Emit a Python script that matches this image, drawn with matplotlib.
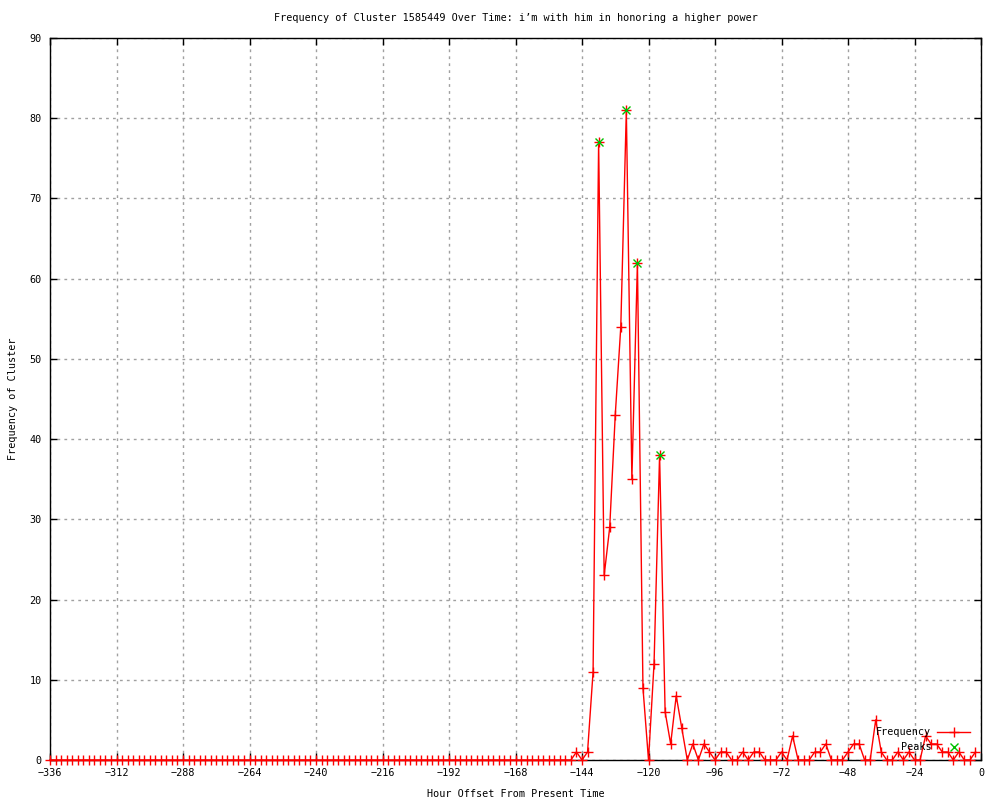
import matplotlib
matplotlib.use("Agg")
import matplotlib.pyplot as plt

# hours before present, one sample every 2 hours
hours = list(range(-336, 0, 2))

# -336 .. -148 (all zero)
quiet = [0, 0, 0, 0, 0, 0, 0, 0, 0, 0, 0, 0, 0, 0, 0, 0, 0, 0, 0, 0,
         0, 0, 0, 0, 0, 0, 0, 0, 0, 0, 0, 0, 0, 0, 0, 0, 0, 0, 0, 0,
         0, 0, 0, 0, 0, 0, 0, 0, 0, 0, 0, 0, 0, 0, 0, 0, 0, 0, 0, 0,
         0, 0, 0, 0, 0, 0, 0, 0, 0, 0, 0, 0, 0, 0, 0, 0, 0, 0, 0, 0,
         0, 0, 0, 0, 0, 0, 0, 0, 0, 0, 0, 0, 0, 0, 0]
# -146 .. -2
active = [1, 0, 1, 11, 77, 23, 29, 43, 54, 81, 35, 62, 9, 0, 12, 38, 6, 2, 8, 4,
          0, 2, 0, 2, 1, 0, 1, 1, 0, 0, 1, 0, 1, 1, 0, 0, 0, 1, 0, 3,
          0, 0, 0, 1, 1, 2, 0, 0, 0, 1, 2, 2, 0, 0, 5, 1, 0, 0, 1, 0,
          1, 0, 0, 3, 2, 2, 1, 1, 0, 1, 0, 0, 1]
frequency = quiet + active

peak_hours = [-138, -128, -124, -116]
peak_values = [77, 81, 62, 38]

x_ticks = list(range(-336, 1, 24))
y_ticks = list(range(0, 91, 10))

title = "Frequency of Cluster 1585449 Over Time: i\u2019m with him in honoring a higher power"

plt.rcParams['font.family'] = ['DejaVu Sans Mono']
plt.rcParams['font.size'] = 7.3

fig = plt.figure(figsize=(10, 8), dpi=100)
ax = fig.add_axes([0.05, 0.05, 0.931, 0.9025])

ax.plot(hours, frequency, color='#ff0000', lw=1.0, marker='+', ms=7,
        mew=1.0, label='Frequency', clip_on=False, zorder=3)
ax.plot(peak_hours, peak_values, ls='none', color='#00c000', marker='x',
        ms=6, mew=1.0, label='Peaks', zorder=4)

ax.set_xlim(-336, 0)
ax.set_ylim(0, 90)
ax.set_xticks(x_ticks)
ax.set_yticks(y_ticks)
ax.set_xticklabels([str(t).replace('-', '\u2212') for t in x_ticks])
ax.tick_params(direction='in', length=5, width=1, top=True, right=True,
               pad=6, colors='black')
ax.grid(True, color='#a0a0a0', ls=(0, (2, 3)), lw=1)
for s in ax.spines.values():
    s.set_linewidth(1)

ax.set_title(title, fontsize=7.3, pad=12)
ax.set_xlabel("Hour Offset From Present Time", labelpad=8)
ax.set_ylabel("Frequency of Cluster", labelpad=8)

ax.legend(loc='lower right', bbox_to_anchor=(0.988, 0.011), frameon=False,
          markerfirst=False, numpoints=1, handlelength=3.2, handletextpad=0.6,
          labelspacing=0.45, borderpad=0, borderaxespad=0)

fig.savefig("out.png", dpi=100)
